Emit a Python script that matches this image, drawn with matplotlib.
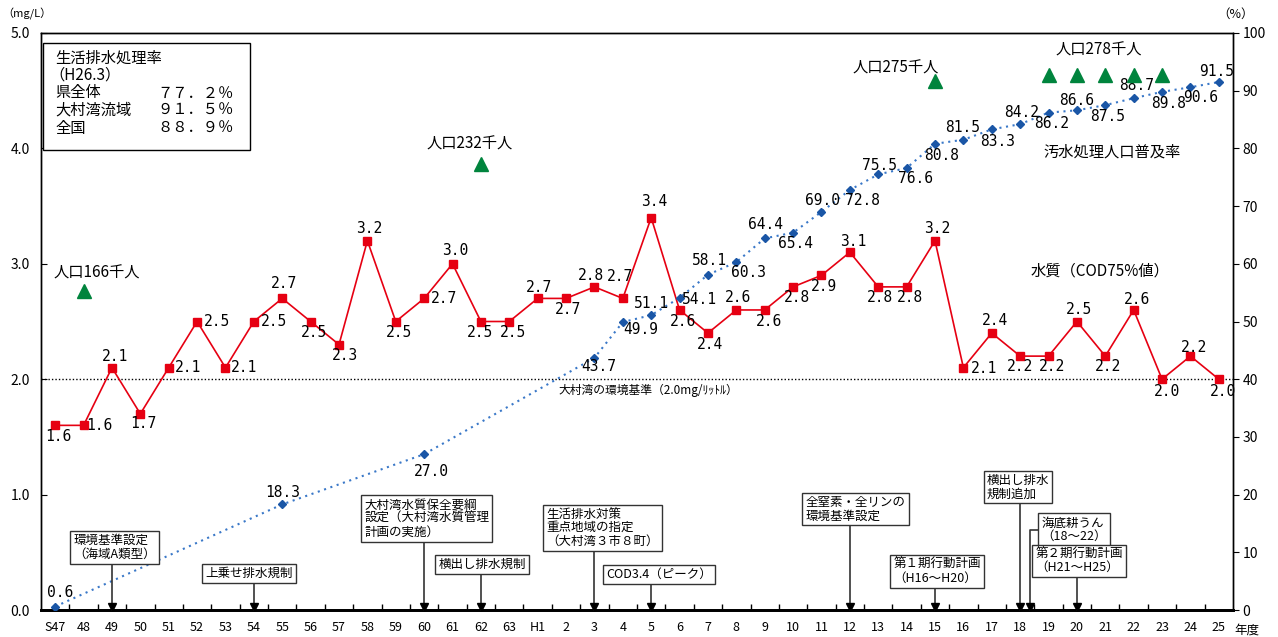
import matplotlib
matplotlib.use("Agg")
import matplotlib.pyplot as plt
from matplotlib.patches import Rectangle

plt.rcParams['font.family'] = ['Noto Sans CJK JP', 'DejaVu Sans']

W, H = 1278, 637

# ---- data -----------------------------------------------------------------
YEARS = ["S47"] + [str(y) for y in range(48, 64)] + ["H1"] + [str(y) for y in range(2, 26)]

COD = [1.6, 1.6, 2.1, 1.7, 2.1, 2.5, 2.1, 2.5, 2.7, 2.5, 2.3, 3.2, 2.5, 2.7, 3.0, 2.5, 2.5,
       2.7, 2.7, 2.8, 2.7, 3.4, 2.6, 2.4, 2.6, 2.6, 2.8, 2.9, 3.1, 2.8, 2.8, 3.2, 2.1, 2.4,
       2.2, 2.2, 2.5, 2.2, 2.6, 2.0, 2.2, 2.0]

SEWER_YEARS = ["S47", "55", "60", "3", "4", "5", "6", "7", "8", "9", "10", "11", "12", "13",
               "14", "15", "16", "17", "18", "19", "20", "21", "22", "23", "24", "25"]
SEWER_RATE = [0.6, 18.3, 27.0, 43.7, 49.9, 51.1, 54.1, 58.1, 60.3, 64.4, 65.4, 69.0, 72.8,
              75.5, 76.6, 80.8, 81.5, 83.3, 84.2, 86.2, 86.6, 87.5, 88.7, 89.8, 90.6, 91.5]

POP_YEARS = ["48", "62", "15", "19", "20", "21", "22", "23"]
POP_THOUSANDS = [166, 232, 275, 278, 278, 278, 278, 278]
POP_LABELED = ["48", "62", "15", "21"]

STANDARD = 2.0

EVENTS = [
    ("環境基準設定\n（海域A類型）", "49"),
    ("上乗せ排水規制", "54"),
    ("大村湾水質保全要綱\n設定（大村湾水質管理\n計画の実施）", "60"),
    ("横出し排水規制", "62"),
    ("生活排水対策\n重点地域の指定\n（大村湾３市８町）", "3"),
    ("COD3.4（ピーク）", "5"),
    ("全窒素・全リンの\n環境基準設定", "12"),
    ("第１期行動計画\n（H16～H20）", "15"),
    ("横出し排水\n規制追加", "18"),
    ("海底耕うん\n（18～22）", "18"),
    ("第２期行動計画\n（H21～H25）", "20"),
]

RATE_TABLE = [("県全体", "７７．２％"), ("大村湾流域", "９１．５％"), ("全国", "８８．９％")]

# ---- layout (pixel offsets of labels, box anchors) --------------------------
COD_OFFS = [(3, -11), (16, 0), (3, 11), (3, -10), (19, 0), (20, 0), (19, 0), (20, 0),
            (2, 15), (3, -11), (6, -11), (2, 12), (3, -11), (20, 0), (3, 13), (-1, -11),
            (4, -11), (1, 11), (2, -11), (-3, 11), (-3, 22), (3, 16), (3, -12), (2, -11),
            (2, 12), (4, -12), (4, -11), (3, -11), (3, 11), (2, -11), (3, -11), (2, 12),
            (21, -1), (3, 13), (0, -10), (3, -10), (2, 12), (3, -10), (3, 10), (5, -12),
            (4, 9), (4, -12)]
SEWER_OFFS = [(5, 14), (0, 12), (7, -17), (4, -9), (18, -7), (0, 12), (20, -2), (1, 14),
              (12, -10), (1, 14), (2, -11), (1, 11), (13, -11), (1, 9), (9, -10), (7, -12),
              (-1, 12), (6, -12), (1, 12), (3, -11), (0, 10), (2, -11), (3, 13), (7, -12),
              (10, -10), (-2, 11)]
POP_OFFS = [(13, 18), (-11, 20), (-39, 13), (-7, 25)]
# text anchor (x index, y mg/L) of each event box
EVENT_POS = [(0.63, 0.43), (5.29, 0.26), (10.89, 0.62), (13.5, 0.34), (17.31, 0.54),
             (19.42, 0.25), (26.44, 0.76), (29.54, 0.22), (32.82, 0.95), (34.75, 0.58),
             (34.54, 0.31)]
BRACKET_DX = 0.35

RED = "#e60012"
BLUE_M = "#1a56a6"
BLUE_L = "#3a78c8"
GREEN = "#00843d"
MONO = "DejaVu Sans Mono"


def px(x, y):
    return x / W, 1 - y / H


fig = plt.figure(figsize=(W / 100, H / 100), dpi=100)
ax = fig.add_axes([41 / W, 27 / H, 1192 / W, 577 / H])
ax2 = ax.twinx()

xs = list(range(len(YEARS)))
ax.set_xlim(-0.5, len(YEARS) - 0.5)
ax.set_ylim(0, 5)
ax2.set_ylim(0, 100)

# standard line
ax.axhline(STANDARD, color="black", lw=1, ls=(0, (1, 1.5)), zorder=1)
ax.text(20.9, STANDARD - 0.04, "大村湾の環境基準（2.0mg/ﾘｯﾄﾙ）", ha="center", va="top",
        fontsize=8.5)

# COD series
ax.plot(xs, COD, color=RED, lw=1.2, marker="s", ms=6, mec=RED, mfc=RED, zorder=3)
for x, v, (dx, dy) in zip(xs, COD, COD_OFFS):
    ax.annotate(f"{v:.1f}", (x, v), xytext=(dx, dy), textcoords="offset pixels",
                ha="center", va="center", fontsize=10.5, family=MONO)

# sewer rate series
sx = [YEARS.index(y) for y in SEWER_YEARS]
ax2.plot(sx, SEWER_RATE, color=BLUE_L, lw=1.5, ls=(0, (1, 2.2)), zorder=2)
ax2.plot(sx, SEWER_RATE, ls="none", marker="D", ms=4, color=BLUE_M, zorder=3)
for x, v, (dx, dy) in zip(sx, SEWER_RATE, SEWER_OFFS):
    ax2.annotate(f"{v:.1f}", (x, v), xytext=(dx, dy), textcoords="offset pixels",
                 ha="center", va="center", fontsize=10.5, family=MONO)

# population triangles (plotted as thousand / 3 on the % axis)
px_ = [YEARS.index(y) for y in POP_YEARS]
py_ = [p / 3 for p in POP_THOUSANDS]
ax2.plot(px_, py_, ls="none", marker="^", ms=10, color=GREEN, zorder=3)
for yr, (dx, dy) in zip(POP_LABELED, POP_OFFS):
    i = POP_YEARS.index(yr)
    ax2.annotate(f"人口{POP_THOUSANDS[i]}千人", (px_[i], py_[i]), xytext=(dx, dy),
                 textcoords="offset pixels", ha="center", va="center", fontsize=11)

# series names
fig.text(*px(1112, 152), "汚水処理人口普及率", ha="center", va="center", fontsize=11)
fig.text(*px(1100, 271), "水質（COD75%値）", ha="center", va="center", fontsize=11)

# event boxes
boxes = []
for (txt, yr), (tx, ty) in zip(EVENTS, EVENT_POS):
    t = ax2.text(tx, ty, txt, transform=ax.transData, ha="left", va="bottom", fontsize=9,
                 multialignment="left", linespacing=1.05, zorder=6,
                 bbox=dict(boxstyle="square,pad=0.25", fc="white", ec="#333333", lw=1))
    boxes.append((t, YEARS.index(yr), txt))

fig.canvas.draw()
inv = ax.transData.inverted()
for t, xi, txt in boxes:
    ext = t.get_bbox_patch().get_window_extent()
    (x0, y0), (x1, y1) = inv.transform([[ext.x0, ext.y0], [ext.x1, ext.y1]])
    if txt.startswith("海底"):
        xa = xi + BRACKET_DX
        ym = (y0 + y1) / 2
        ax2.plot([x0, xa, xa], [ym, ym, 0], transform=ax.transData, color="#333333",
                 lw=1.2, zorder=5, clip_on=False)
    else:
        xa = xi
        ax2.plot([xa, xa], [y0, 0], transform=ax.transData, color="#333333", lw=1.2,
                 zorder=5, clip_on=False)
    ax2.plot([xa], [0.03], transform=ax.transData, marker="v", ms=6, color="black",
             zorder=6, clip_on=False)

# legend-like box (top-left)
fig.patches.append(Rectangle(px(43, 150), 207 / W, 107 / H, transform=fig.transFigure,
                             fc="white", ec="black", lw=1, zorder=5))
fig.text(*px(55, 58), "生活排水処理率", ha="left", va="center", fontsize=11, zorder=6)
fig.text(*px(49, 75), "（H26.3）", ha="left", va="center", fontsize=11, zorder=6)
for k, (name, val) in enumerate(RATE_TABLE):
    y = 93 + k * 17.5
    fig.text(*px(55, y), name, ha="left", va="center", fontsize=11, zorder=6)
    fig.text(*px(234, y), val, ha="right", va="center", fontsize=11, zorder=6)

# axes styling
ax.set_xticks(xs)
ax.set_xticklabels(YEARS, fontsize=9)
ax.set_xticks([x + 0.5 for x in xs[:-1]], minor=True)
ax.tick_params(axis="x", which="major", length=0, pad=8)
ax.tick_params(axis="x", which="minor", direction="in", length=4, width=1)
ax.set_yticks([0, 1, 2, 3, 4, 5])
ax.set_yticklabels([f"{v:.1f}" for v in range(6)], fontsize=10)
ax.tick_params(axis="y", direction="in", length=4, pad=8)
ax2.set_yticks(range(0, 101, 10))
ax2.tick_params(axis="y", direction="out", length=4, labelsize=10, pad=3)
for a in (ax, ax2):
    for s in a.spines.values():
        s.set_color("black")
        s.set_linewidth(1)
    a.spines["bottom"].set_linewidth(2)

fig.text(*px(27, 14), "（mg/L）", ha="center", va="center", fontsize=8)
fig.text(*px(1236, 14), "（%）", ha="center", va="center", fontsize=9)
fig.text(*px(1247, 630), "年度", ha="center", va="center", fontsize=9)

fig.savefig("out.png", dpi=100)
